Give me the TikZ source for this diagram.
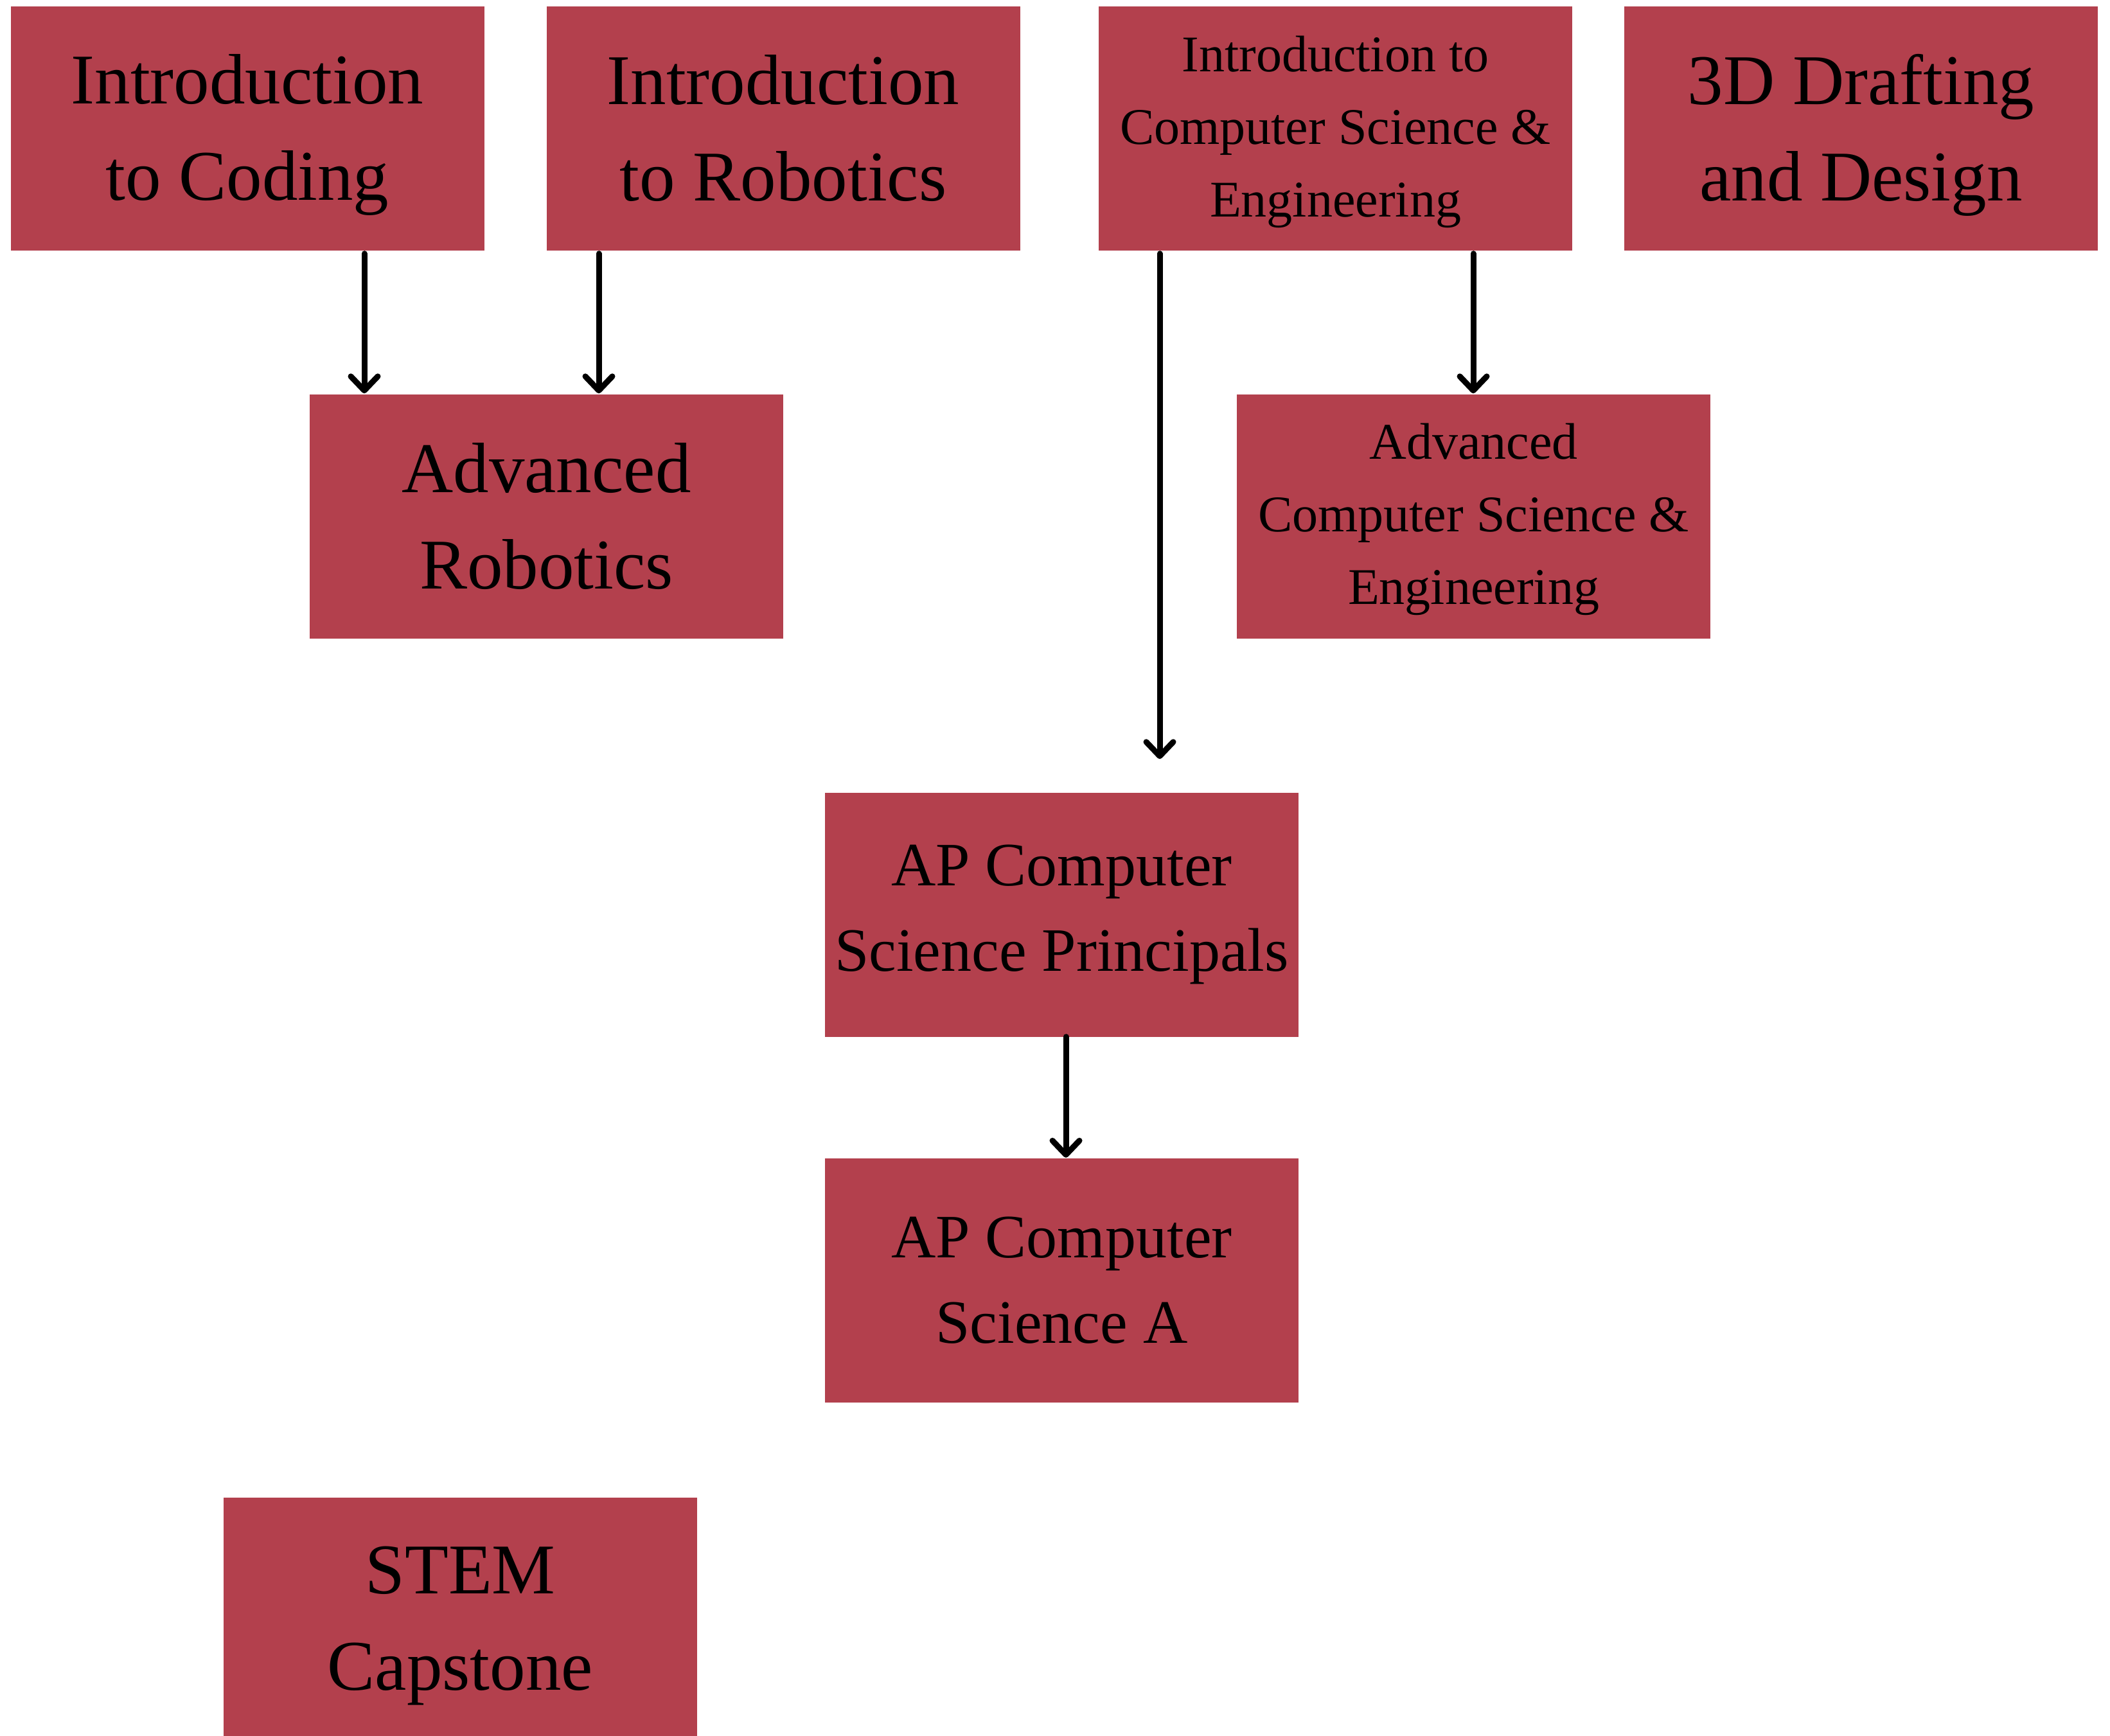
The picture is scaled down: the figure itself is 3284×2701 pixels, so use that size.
\documentclass[tikz,border=0pt]{standalone}
\usepackage{fontspec}
\setmainfont{Liberation Serif}
\usetikzlibrary{arrows.meta}
\definecolor{course}{HTML}{B3404D}
\begin{document}
\begin{tikzpicture}[x=1pt,y=-1pt,
  coursebox/.style={fill=course, draw=none, minimum width=737pt, minimum height=380pt,
    inner sep=0pt, align=center, text=black},
  bigtext/.style={font=\fontsize{111}{150}\selectfont},
  midtext/.style={font=\fontsize{96}{133}\selectfont},
  smalltext/.style={font=\fontsize{80}{113}\selectfont},
  bigdesc/.style={text depth=4pt},
  smalldesc/.style={text depth=7pt},
  prereq/.style={line width=9pt, line cap=round, draw=black,
    -{Straight Barb[length=22pt,width=42pt,line cap=round,line join=round]}}]
\useasboundingbox (0,0) rectangle (3284,2701);

% first-year courses
\node[coursebox,bigtext,bigdesc]     (intcode)  at (385,200)    {Introduction\\to Coding};
\node[coursebox,bigtext]             (introb)   at (1219,200)   {Introduction\\to Robotics};
\node[coursebox,smalltext,smalldesc] (intcse)   at (2078.5,200) {Introduction to\\Computer Science \&\\Engineering};
\node[coursebox,bigtext,bigdesc]     (drafting) at (2896.5,200) {3D Drafting\\and Design};

% follow-on courses
\node[coursebox,bigtext]             (advrob) at (850.5,803.5)  {Advanced\\Robotics};
\node[coursebox,smalltext,smalldesc] (advcse) at (2293.5,803.5) {Advanced\\Computer Science \&\\Engineering};

% AP sequence
\node[coursebox,midtext] (apcsp) at (1652.5,1423.5) {AP Computer\\Science Principals};
\node[coursebox,midtext] (apcsa) at (1652.5,1993)   {AP Computer\\Science A};

% capstone
\node[coursebox,bigtext,bigdesc] (capstone) at (716.5,2521) {STEM\\Capstone};

% arrow columns
\coordinate (colA) at (567,0);
\coordinate (colB) at (932,0);
\coordinate (colC) at (1805,0);
\coordinate (colD) at (2293,0);
\coordinate (colE) at (1659,0);

\draw[prereq, shorten <=4.5pt, shorten >=1pt] (intcode.south -| colA) -- (advrob.north -| colA);
\draw[prereq, shorten <=4.5pt, shorten >=1pt] (introb.south -| colB) -- (advrob.north -| colB);
\draw[prereq, shorten <=4.5pt, shorten >=52pt] (intcse.south -| colC) -- (apcsp.north -| colC);
\draw[prereq, shorten <=4.5pt, shorten >=1pt] (intcse.south -| colD) -- (advcse.north -| colD);
\draw[prereq, shorten >=1pt] (apcsp.south -| colE) -- (apcsa.north -| colE);
\end{tikzpicture}
\end{document}
